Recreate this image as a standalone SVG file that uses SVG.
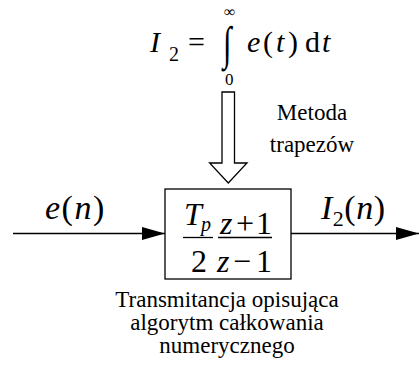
<svg xmlns="http://www.w3.org/2000/svg" width="419" height="381" viewBox="0 0 419 381">
<style>
text{font-family:'Liberation Serif','Times New Roman',serif;fill:#000}
.it{font-style:italic}
.f30{font-size:30px}
.f32{font-size:32px}
.f20{font-size:20px}
.lbl{font-size:23px;text-anchor:middle}
.ln{stroke:#000;stroke-width:1.3;fill:none}
</style>
<defs>
<marker id="ah" markerWidth="24" markerHeight="14" refX="23" refY="7" orient="auto" markerUnits="userSpaceOnUse">
<path d="M0,0.5 L23,7 L0,13.5 Z" fill="#000"/>
</marker>
</defs>
<g id="formula">
<text class="it f30" x="150" y="52">I</text>
<text class="f20" x="169" y="61">2</text>
<text class="f30" x="188" y="52">=</text>
<text x="0" y="0" transform="translate(223,59) scale(1,1.5)" style="font-size:31px">∫</text>
<text x="224" y="17" style="font-size:16px">∞</text>
<text x="225" y="85" style="font-size:17px">0</text>
<text class="it f30" x="247" y="52">e</text>
<text class="f30" x="263" y="52">(</text>
<text class="it f30" x="276" y="52">t</text>
<text class="f30" x="288" y="52">)</text>
<text class="f30" x="305" y="52">d</text>
<text class="it f30" x="322" y="52">t</text>
</g>
<g id="method-arrow">
<path class="ln" d="M222,92 L234.5,92 L234.5,163 L247,163 L228.3,183 L209.6,163 L222,163 Z" stroke-linejoin="miter"/>
</g>
<g id="method-label">
<text class="lbl" x="312" y="120">Metoda</text>
<text class="lbl" x="312" y="152">trapezów</text>
</g>
<g id="block">
<rect class="ln" x="165" y="189" width="126" height="90"/>
<text class="it f32" x="184" y="225">T</text>
<text class="it f20" x="201" y="231">p</text>
<line class="ln" x1="183" y1="237.5" x2="213" y2="237.5"/>
<text class="f32" x="191" y="272">2</text>
<text class="it f32" x="220" y="234">z</text>
<text class="f32" x="236" y="234">+</text>
<text class="f32" x="256" y="234">1</text>
<line class="ln" x1="218" y1="237.5" x2="272" y2="237.5"/>
<text class="it f32" x="217" y="272">z</text>
<text class="f32" x="233" y="272">−</text>
<text class="f32" x="256" y="272">1</text>
</g>
<g id="input-label">
<text style="font-size:34px" x="45" y="219" letter-spacing="1.5"><tspan class="it">e</tspan>(<tspan class="it">n</tspan>)</text>
</g>
<g id="output-label">
<text style="font-size:34px" x="321" y="219" letter-spacing="0.5"><tspan class="it">I</tspan><tspan style="font-size:22px" dy="7">2</tspan><tspan dy="-7">(</tspan><tspan class="it">n</tspan>)</text>
</g>
<g id="desc">
<text class="lbl" x="227" y="307">Transmitancja opisująca</text>
<text class="lbl" x="227" y="330">algorytm całkowania</text>
<text class="lbl" x="227" y="353">numerycznego</text>
</g>
<g id="connectors">
<line class="ln" x1="13" y1="233.5" x2="165" y2="233.5" marker-end="url(#ah)"/>
<line class="ln" x1="291" y1="233.5" x2="419" y2="233.5" marker-end="url(#ah)"/>
</g>
</svg>
